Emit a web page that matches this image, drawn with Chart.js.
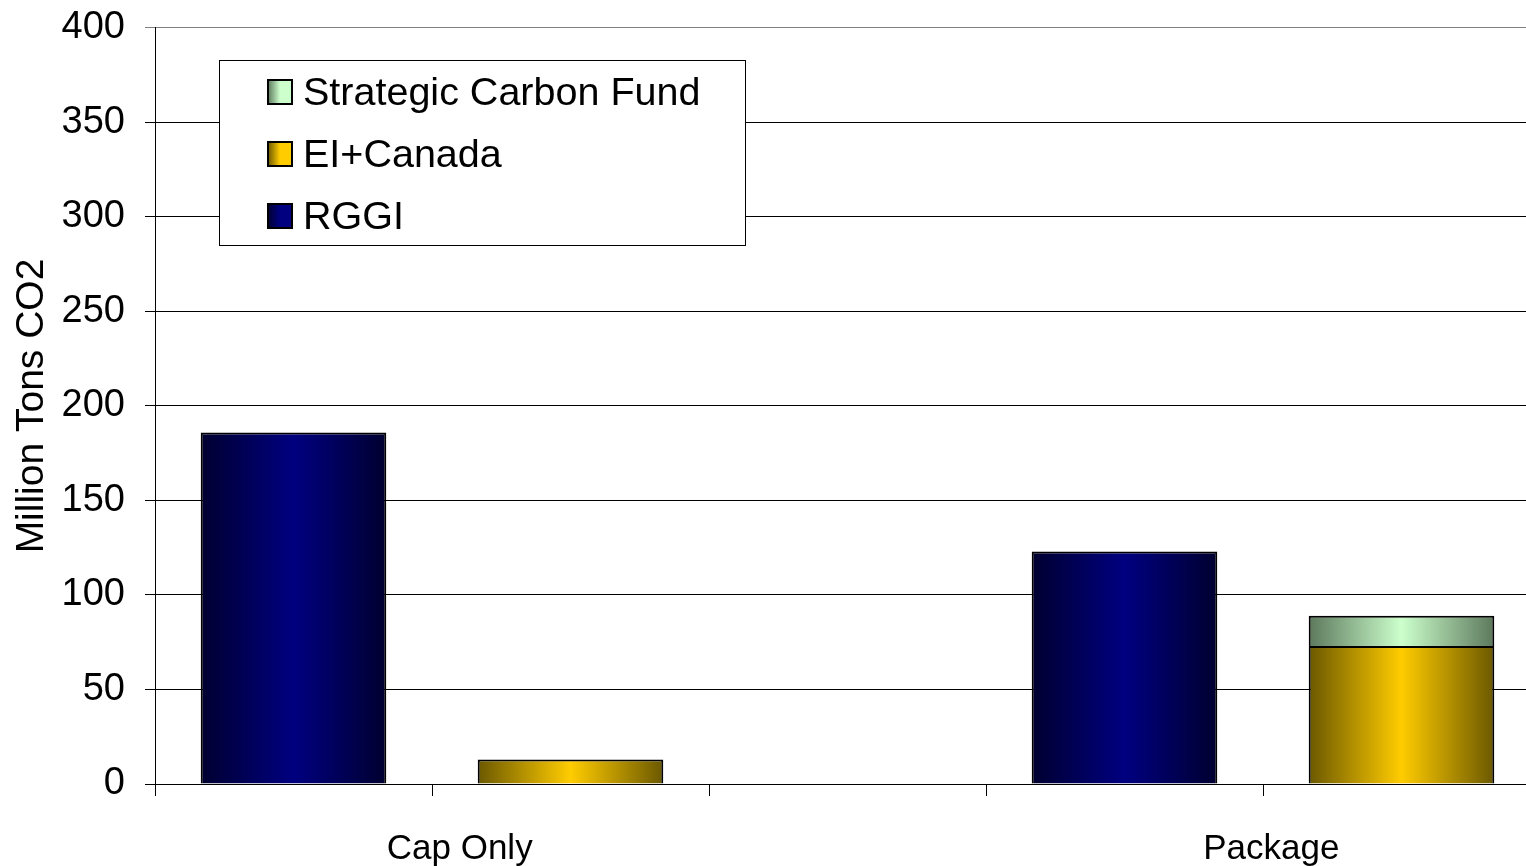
<!DOCTYPE html>
<html>
<head>
<meta charset="utf-8">
<title>Million Tons CO2</title>
<script src="https://cdn.jsdelivr.net/npm/chart.js@4.4.1/dist/chart.umd.min.js"></script>
<style>
  html, body { margin: 0; padding: 0; overflow: hidden; background: #fff; }
  #wrap { width: 1540px; height: 866px; }
</style>
</head>
<body>
<div id="wrap"><canvas id="chart" width="1540" height="866"></canvas></div>
<script>
// one bar per slot on the x axis, the middle slot is an empty gap
const slots = ['Cap Only RGGI', 'Cap Only EI+Canada', '', 'Package RGGI', 'Package EI+Canada'];
const groupLabels = ['Cap Only', 'Package'];
const groupPositions = [1.1, 4.03];

const rggi = [186, null, null, 123, null];
const eiCanada = [null, 13, null, null, 73];
const strategicFund = [null, null, null, null, 16];

const yTicks = [0, 50, 100, 150, 200, 250, 300, 350, 400];

const FONT = '"Liberation Sans", Arial, sans-serif';
const BAR_PCT = 0.67;

// edge colour, centre colour
const shades = {
  'RGGI': ['#000030', '#000080'],
  'EI+Canada': ['#6b5800', '#ffcc00'],
  'Strategic Carbon Fund': ['#5c785c', '#ccffcc']
};

function barGradient(label) {
  const st = shades[label];
  return (c) => {
    const chart = c.chart;
    const xs = chart.scales.x;
    if (!chart.chartArea || !xs || c.dataIndex === undefined) return st[1];
    const slotW = xs.width / slots.length;
    const cx = xs.getPixelForValue(c.dataIndex);
    const w = slotW * BAR_PCT;
    const g = chart.ctx.createLinearGradient(cx - w / 2, 0, cx + w / 2, 0);
    g.addColorStop(0, st[0]);
    g.addColorStop(0.5, st[1]);
    g.addColorStop(1, st[0]);
    return g;
  };
}

// boxed legend drawn inside the plot, last series first
const legendBox = {
  id: 'legendBox',
  afterDatasetsDraw(chart) {
    const ctx = chart.ctx;
    const x = 219, y = 60, w = 526, h = 185;
    ctx.save();
    ctx.fillStyle = '#fff';
    ctx.fillRect(x, y, w, h);
    ctx.strokeStyle = '#000';
    ctx.lineWidth = 1;
    ctx.strokeRect(x + 0.5, y + 0.5, w, h);
    const items = chart.data.datasets.slice().reverse();
    items.forEach((ds, i) => {
      const cy = 92 + i * 62;
      const sx = 268, s = 24;
      const st = shades[ds.label];
      const g = ctx.createLinearGradient(sx, 0, sx + s, 0);
      g.addColorStop(0, st[0]);
      g.addColorStop(0.5, st[1]);
      g.addColorStop(1, st[1]);
      ctx.fillStyle = g;
      ctx.fillRect(sx, cy - s / 2, s, s);
      ctx.lineWidth = 2;
      ctx.strokeStyle = '#000';
      ctx.strokeRect(sx, cy - s / 2, s, s);
      ctx.fillStyle = '#000';
      ctx.font = '39.5px ' + FONT;
      ctx.textBaseline = 'middle';
      ctx.textAlign = 'left';
      ctx.fillText(ds.label, 303, cy + 2);
    });
    ctx.restore();
  }
};

const ctx = document.getElementById('chart');
new Chart(ctx, {
  type: 'bar',
  data: {
    labels: slots,
    datasets: [
      { label: 'RGGI', data: rggi, backgroundColor: barGradient('RGGI') },
      { label: 'EI+Canada', data: eiCanada, backgroundColor: barGradient('EI+Canada') },
      { label: 'Strategic Carbon Fund', data: strategicFund, backgroundColor: barGradient('Strategic Carbon Fund') }
    ]
  },
  options: {
    responsive: false,
    animation: false,
    layout: { padding: { top: 0, left: 0, right: 0, bottom: 0 } },
    datasets: {
      bar: {
        borderColor: '#000',
        borderWidth: 2,
        borderSkipped: 'start',
        categoryPercentage: 1,
        barPercentage: BAR_PCT
      }
    },
    scales: {
      x: {
        stacked: true,
        weight: 0,
        ticks: { display: false },
        grid: {
          display: true,
          drawOnChartArea: false,
          drawTicks: true,
          tickLength: 12,
          offset: true,
          color: '#000'
        },
        border: { display: true, color: '#000', width: 1 },
        afterFit: (s) => { s.height = 12; }
      },
      xg: {
        type: 'linear',
        position: 'bottom',
        weight: 1,
        offset: false,
        min: 0,
        max: slots.length,
        afterBuildTicks: (s) => { s.ticks = groupPositions.map(v => ({ value: v })); },
        ticks: {
          autoSkip: false,
          maxRotation: 0,
          padding: 32,
          color: '#000',
          font: { family: FONT, size: 35 },
          callback: (v) => groupLabels[groupPositions.indexOf(v)]
        },
        grid: { display: false, drawTicks: false },
        border: { display: false },
        afterFit: (s) => { s.height = 70; }
      },
      y: {
        stacked: true,
        min: 0,
        max: 400,
        afterBuildTicks: (s) => { s.ticks = yTicks.map(v => ({ value: v })); },
        ticks: {
          padding: 20,
          color: '#000',
          font: { family: FONT, size: 38, lineHeight: 0.42 }
        },
        grid: {
          color: (c) => (c.tick && c.tick.value === 400 ? '#808080' : '#000'),
          lineWidth: 1,
          tickLength: 10,
          drawTicks: true
        },
        border: { display: true, color: '#000', width: 1 },
        title: {
          display: true,
          text: 'Million Tons CO2',
          color: '#000',
          font: { family: FONT, size: 39 },
          padding: { top: 9, bottom: 0 }
        },
        afterFit: (s) => { s.width = 155; }
      }
    },
    plugins: {
      legend: { display: false },
      tooltip: { enabled: false }
    }
  },
  plugins: [legendBox]
});
</script>
</body>
</html>
